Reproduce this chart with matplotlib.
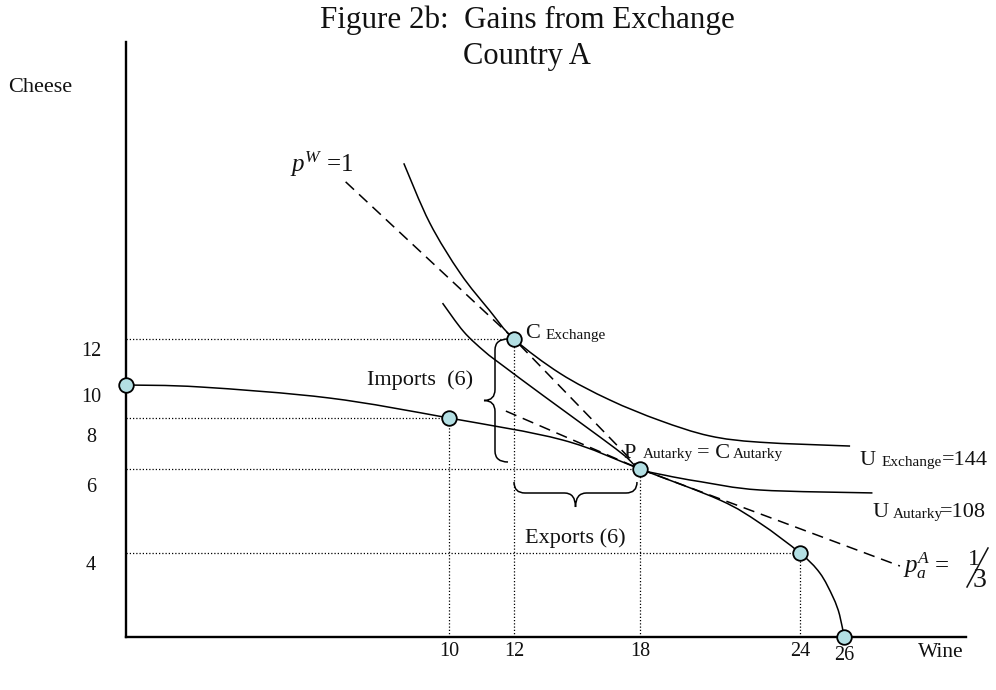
import numpy as np
import matplotlib
matplotlib.use("Agg")
import matplotlib.pyplot as plt
from matplotlib.path import Path
from matplotlib.patches import PathPatch
from matplotlib.transforms import IdentityTransform
from matplotlib.lines import Line2D

# ---------------- data ----------------
x_ticks = [10, 12, 18, 24, 26]
y_ticks = [4, 6, 8, 10, 12]

# production possibility frontier
ppf_wine = [0, 2.3, 6.3, 10, 14.3, 18, 21.0, 22.5, 24, 24.9, 25.5, 25.8, 26]
ppf_cheese = [10, 9.88, 9.21, 8, 7.14, 6, 5.26, 4.71, 4, 3.05, 1.9, 1.05, 0]

# indifference curves
u_exch_wine = [8.6, 9.4, 10.35, 11.25, 12, 14.2, 16.55, 18.75, 20.6, 22.5, 26.3]
u_exch_cheese = [19.1, 16.7, 14.65, 13.15, 12, 10.5, 9.1, 7.9, 7.3, 7.05, 6.9]
u_aut_wine = [9.8, 10.45, 11.1, 11.65, 13.4, 16.1, 17.3, 18, 18.95, 20.25, 22.5, 27.4]
u_aut_cheese = [13.45, 12.3, 11.45, 10.85, 9.35, 7.25, 6.5, 6, 5.85, 5.7, 5.5, 5.43]

# price lines
pw_wine = [6.8, 12, 18]
pw_cheese = [18.35, 12, 6]
pa_wine = [11.75, 18, 28.75]
pa_cheese = [8.42, 6, 3.38]

# highlighted points
pts_wine = [0, 10, 12, 18, 24, 26]
pts_cheese = [10, 8, 12, 6, 4, 0]
# points with dotted guides to the axes
guide_wine = [10, 12, 18, 24]
guide_cheese = [8, 12, 6, 4]

c_exchange = (12, 12)
p_autarky = (18, 6)

# ---------------- scale (hand-drawn, non-uniform axes) ----------------
X_KNOTS = [0, 10, 12, 18, 24, 26, 32]
X_POS = [0, 323, 388, 514, 674, 718, 840]
Y_KNOTS = [0, 4, 6, 8, 10, 12, 24]
Y_POS = [0, 84, 168, 219, 252, 298, 595]


def xf(v):
    return np.interp(v, X_KNOTS, X_POS)


def xi(p):
    return np.interp(p, X_POS, X_KNOTS)


def yf(v):
    return np.interp(v, Y_KNOTS, Y_POS)


def yi(p):
    return np.interp(p, Y_POS, Y_KNOTS)


plt.rcParams['font.family'] = ['Liberation Serif', 'DejaVu Serif']
plt.rcParams['mathtext.fontset'] = 'custom'
plt.rcParams['mathtext.rm'] = 'Liberation Serif'
plt.rcParams['mathtext.it'] = 'Liberation Serif:italic'
plt.rcParams['mathtext.bf'] = 'Liberation Serif:bold'

W, H = 996, 690
fig = plt.figure(figsize=(W / 100, H / 100), dpi=100)
ax = fig.add_axes([126 / W, (H - 637) / H, 840 / W, 595 / H])
ax.set_xscale('function', functions=(xf, xi))
ax.set_yscale('function', functions=(yf, yi))
ax.set_xlim(0, 32)
ax.set_ylim(0, 24)
for s in ['top', 'right']:
    ax.spines[s].set_visible(False)
for s in ['left', 'bottom']:
    ax.spines[s].set_linewidth(1.7)
    ax.spines[s].set_color('black')
ax.set_xticks([])
ax.set_yticks([])
ax.patch.set_alpha(0)

LW = 1.1
DASH = (0, (7.5, 4.5))
DOT = (0, (1, 1.6))

# dotted guides
for gx, gy in zip(guide_wine, guide_cheese):
    ax.plot([0, gx], [gy, gy], color='black', lw=0.9, ls=DOT, zorder=1)
    ax.plot([gx, gx], [0, gy], color='black', lw=0.9, ls=DOT, zorder=1)


def smooth_curve(xs, ys):
    """Smooth curve through the read points (Catmull-Rom drawn as Bezier)."""
    pts = ax.transData.transform(np.column_stack([xs, ys]))
    n = len(pts)
    verts = [pts[0]]
    codes = [Path.MOVETO]
    for i in range(n - 1):
        p0 = pts[i - 1] if i > 0 else pts[i]
        p1 = pts[i]
        p2 = pts[i + 1]
        p3 = pts[i + 2] if i + 2 < n else pts[i + 1]
        c1 = p1 + (p2 - p0) / 6.0
        c2 = p2 - (p3 - p1) / 6.0
        verts += [c1, c2, p2]
        codes += [Path.CURVE4] * 3
    patch = PathPatch(Path(verts, codes), facecolor='none', edgecolor='black',
                      lw=LW, transform=IdentityTransform(), zorder=3)
    patch.set_clip_on(False)
    ax.add_artist(patch)


# curves
smooth_curve(ppf_wine, ppf_cheese)
smooth_curve(u_exch_wine, u_exch_cheese)
smooth_curve(u_aut_wine, u_aut_cheese)
ax.plot(pw_wine, pw_cheese, color='black', lw=LW, ls=DASH, zorder=3)
ax.plot(pa_wine, pa_cheese, color='black', lw=LW, ls=DASH, zorder=3)

# points
ax.plot(pts_wine, pts_cheese, 'o', ms=10.5, mfc='#b3dfe3', mec='black', mew=1.3,
        zorder=5, clip_on=False)


# ---------------- braces ----------------
def brace(p0, p1, outward, h, d, r):
    p0 = np.asarray(p0, float)
    p1 = np.asarray(p1, float)
    L = np.linalg.norm(p1 - p0)
    u = (p1 - p0) / L
    n = np.asarray(outward, float)
    loc = [(0, 0), (0, h), (r, h), (L / 2 - r, h), (L / 2, h), (L / 2, h + d),
           (L / 2, h), (L / 2 + r, h), (L - r, h), (L, h), (L, 0)]
    codes = [Path.MOVETO, Path.CURVE3, Path.CURVE3, Path.LINETO, Path.CURVE3,
             Path.CURVE3, Path.CURVE3, Path.CURVE3, Path.LINETO, Path.CURVE3,
             Path.CURVE3]
    verts = [p0 + t * u + s * n for t, s in loc]
    patch = PathPatch(Path(verts, codes), facecolor='none', edgecolor='black',
                      lw=LW, transform=IdentityTransform(), zorder=3)
    patch.set_clip_on(False)
    ax.add_artist(patch)


td = ax.transData
cx, cy = td.transform(c_exchange)
px_, py_ = td.transform(p_autarky)
# imports brace (vertical, from cheese 12 down to 6 at wine 12)
brace((cx - 6, cy), (cx - 6, py_ + 7), (-1, 0), 13, 11, 11)
# exports brace (horizontal, from wine 12 to 18 below cheese 6)
brace((cx, py_ - 13), (px_ - 3, py_ - 13), (0, -1), 11, 14, 11)


# ---------------- text ----------------
def ftext(x, y, s, size, ha='left', va='baseline', **kw):
    fig.text(x / W, 1 - y / H, s, fontsize=size, ha=ha, va=va, color='#111111', **kw)


ftext(320, 28, 'Figure 2b:  Gains from Exchange', 22.3)
ftext(463, 64, 'Country A', 22)
ftext(8, 92, 'Cheese', 16)
ftext(918, 657, 'Wine', 15.5)

# tick labels
x_label_dy = [14, 14, 14, 14, 19]
for v, dy in zip(x_ticks, x_label_dy):
    ax.annotate(str(v), xy=(v, 0), xytext=(0, -dy * 0.72), textcoords='offset points',
                ha='center', va='center', fontsize=14.5, color='#111111',
                annotation_clip=False)
y_label_dy = [13, 18, 20, 12, 13]
for v, dy in zip(y_ticks, y_label_dy):
    ax.annotate(str(v), xy=(0, v), xytext=(-35 * 0.72, -dy * 0.72), textcoords='offset points',
                ha='center', va='center', fontsize=14.5, color='#111111',
                annotation_clip=False)

ftext(367, 385, 'Imports  (6)', 16)
ftext(525, 543, 'Exports (6)', 16)

ftext(525, 338, 'C', 16)
ftext(546, 339, 'Exchange', 11)

ftext(623, 458, 'P', 16)
ftext(643, 458, 'Autarky', 11)
ftext(697, 458, '= C', 16)
ftext(733, 458, 'Autarky', 11)

ftext(859, 465, 'U', 16)
ftext(882, 466, 'Exchange', 11)
ftext(942, 465, '=144', 16)

ftext(872, 517, 'U', 16)
ftext(893, 518, 'Autarky', 11)
ftext(940, 517, '=108', 16)

ftext(290, 172, r'$p^{W}$ =1', 18)

ftext(903, 573, r'$p_a^A$', 18)
ftext(935, 572, '=', 18)
ftext(968, 565, '1', 17)
ftext(973, 587, '3', 20)
fig.add_artist(Line2D([967 / W, 988 / W], [1 - 587 / H, 1 - 548 / H],
                      transform=fig.transFigure, color='#111111', lw=1.1))

fig.savefig('out.png', dpi=100)
